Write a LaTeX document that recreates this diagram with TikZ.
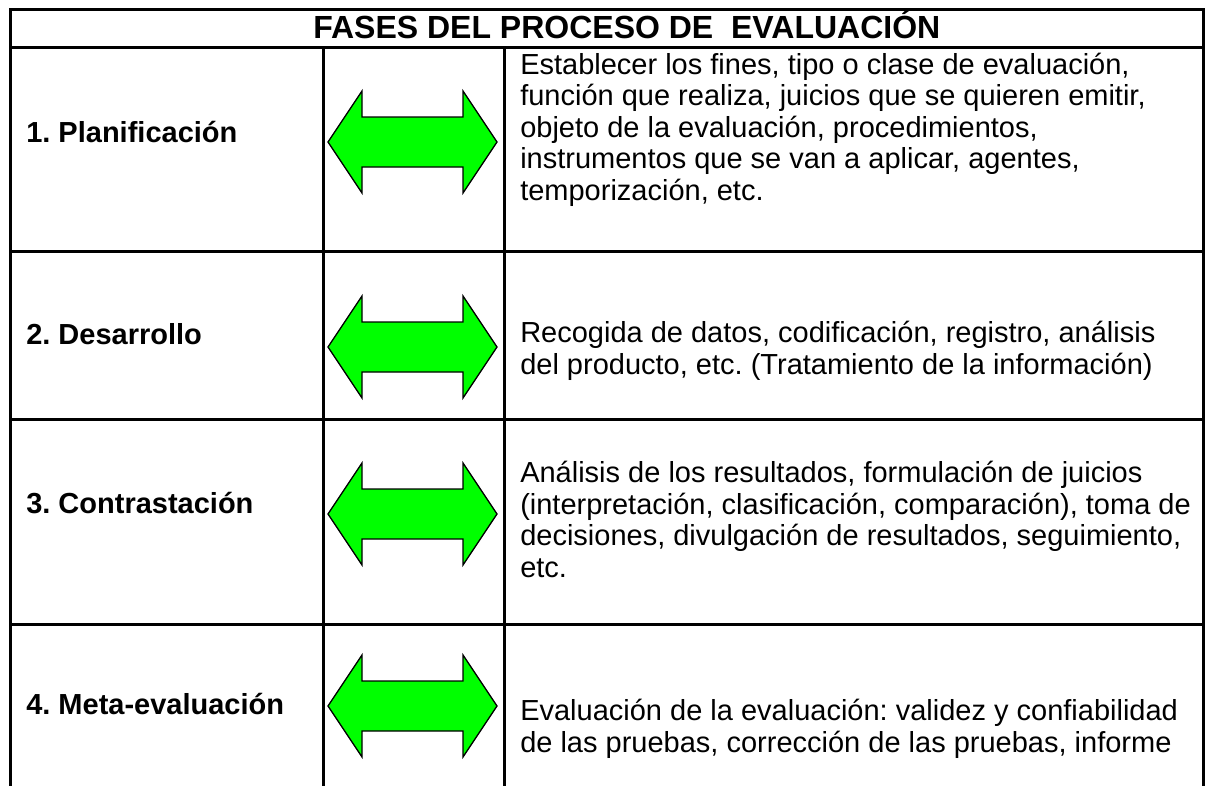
\documentclass[tikz,border=0pt]{standalone}
\usepackage{fontspec}
\setmainfont{Liberation Sans}
\definecolor{verde}{RGB}{0,255,0}
\tikzset{>=latex}
% flecha doble verde centrada en una coordenada
\newcommand\flechadoble[1]{%
	\draw[flecha, shift={(#1)}] (-84.5,0) -- (-50.5,-51) -- (-50.5,-25) -- (50.5,-25) -- (50.5,-51)
		-- (84.5,0) -- (50.5,51) -- (50.5,25) -- (-50.5,25) -- (-50.5,51) -- cycle;}

\begin{document}
\frenchspacing
\begin{tikzpicture}[x=0.75pt, y=-0.75pt]
	\tikzstyle{borde} = [line width=2.25pt, line cap=rect]
	\tikzstyle{flecha} = [fill=verde, draw=black, line width=1pt]
	\tikzstyle{titulo} = [anchor=base west, inner sep=0pt, font=\fontsize{24}{28}\selectfont\bfseries]
	\tikzstyle{fase} = [anchor=base west, inner sep=0pt, font=\fontsize{21.75}{26}\selectfont\bfseries]
	% base = linea base de la ultima linea
	\tikzstyle{texto} = [anchor=base west, inner sep=0pt, align=left, font=\fontsize{21.75}{23.6}\selectfont]

	\useasboundingbox (0,0) rectangle (1206,785);

%----------tabla------------------------------
	\draw[borde] (10,785) -- (10,9) -- (1203,9) -- (1203,785);
	\draw[borde] (10,47) -- (1203,47);
	\draw[borde] (10,251) -- (1203,251);
	\draw[borde] (10,419) -- (1203,419);
	\draw[borde] (10,624) -- (1203,624);
	\draw[borde] (323,47) -- (323,785);
	\draw[borde] (504,47) -- (504,785);

	\node[titulo] (tit) at (313,38) {FASES DEL PROCESO DE \ EVALUACIÓN};

%----------1. Planificación------------------------------
	\node[fase] (f1) at (26,142) {1. Planificación};
	\coordinate (a1) at (412.5,142);
	\flechadoble{a1}
	\node[texto] (t1) at (520,200) {Establecer los fines, tipo o clase de evaluación,\\
		función que realiza, juicios que se quieren emitir,\\
		objeto de la evaluación, procedimientos,\\
		instrumentos que se van a aplicar, agentes,\\
		temporización, etc.};

%----------2. Desarrollo------------------------------
	\node[fase] (f2) at (26,344) {2. Desarrollo};
	\coordinate (a2) at (412.5,347);
	\flechadoble{a2}
	\node[texto] (t2) at (520,374) {Recogida de datos, codificación, registro, análisis\\
		del producto, etc. (Tratamiento de la información)};

%----------3. Contrastación------------------------------
	\node[fase] (f3) at (26,513) {3. Contrastación};
	\coordinate (a3) at (412.5,514);
	\flechadoble{a3}
	\node[texto] (t3) at (520,577) {Análisis de los resultados, formulación de juicios\\
		(interpretación, clasificación, comparación), toma de\\
		decisiones, divulgación de resultados, seguimiento,\\
		etc.};

%----------4. Meta-evaluación------------------------------
	\node[fase] (f4) at (26,714) {4. Meta-evaluación};
	\coordinate (a4) at (412.5,706);
	\flechadoble{a4}
	\node[texto] (t4) at (520,752) {Evaluación de la evaluación: validez y confiabilidad\\
		de las pruebas, corrección de las pruebas, informe};

\end{tikzpicture}
\end{document}
